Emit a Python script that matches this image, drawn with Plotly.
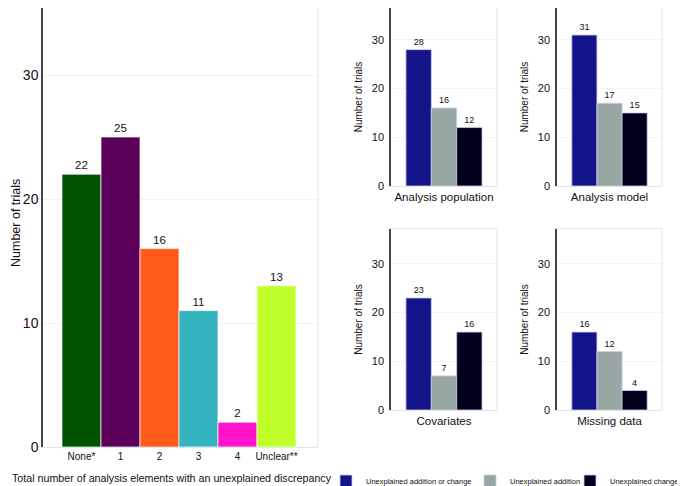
import plotly.graph_objects as go

# main panel: total number of analysis elements with an unexplained discrepancy
main_labels = ["None*", "1", "2", "3", "4", "Unclear**"]
main_counts = [22, 25, 16, 11, 2, 13]
main_colors = ["#005200", "#5a0058", "#ff5a1a", "#35b4c0", "#ff14cc", "#c0ff2a"]

# small panels
panel_titles = ["Analysis population", "Analysis model", "Covariates", "Missing data"]
series_names = ["Unexplained addition or change", "Unexplained addition", "Unexplained change"]
series_colors = ["#14148a", "#98a6a4", "#00001e"]
addition_or_change = [28, 31, 23, 16]
addition = [16, 17, 7, 12]
change = [12, 15, 16, 4]
series_values = [addition_or_change, addition, change]

FONT = "Liberation Sans, Arial, sans-serif"
# the page body has an 8px margin, so the figure is drawn 8px in from the corner
OFF = 8
W, H = 685 - OFF, 486 - OFF
grid_col = "#eef3f4"
frame_col = "#dde7ea"
axis_col = "#444444"


def fx(px):
    return (px - OFF) / W


def fy(py):
    return min(1.0, max(0.0, 1 - (py - OFF) / H))


fig = go.Figure()

fig.add_trace(go.Bar(
    x=list(range(len(main_labels))), y=main_counts, width=1,
    marker=dict(color=main_colors, line=dict(color="rgba(255,255,255,0.7)", width=1)),
    text=main_counts, textposition="outside", cliponaxis=False,
    textfont=dict(size=11.5, color="#111"),
    showlegend=False, xaxis="x", yaxis="y"))

# panel boxes in page pixels (left, right, top, bottom); 12.4 px per unit main, 4.87 small
boxes = [(391, 497, 5, 186), (557, 662, 5, 186), (391, 497, 229, 410), (557, 662, 229, 410)]
legend_text_x = [368, 512, 612]
main_top = OFF

layout = dict(
    width=W, height=H, margin=dict(l=0, r=0, t=0, b=0, autoexpand=False),
    plot_bgcolor="white", paper_bgcolor="white",
    barmode="overlay",
    font=dict(family=FONT, color="#111"),
    xaxis=dict(domain=[fx(43), fx(318)], range=[-0.987, 6.064],
               tickmode="array", tickvals=list(range(len(main_labels))), ticktext=main_labels,
               tickfont=dict(size=10), showgrid=False, zeroline=False,
               showline=True, linecolor=frame_col, mirror=True, ticks="", anchor="y"),
    yaxis=dict(domain=[fy(447), 1.0], range=[0, (447 - main_top) / 12.4], dtick=10,
               tickfont=dict(size=14), showgrid=True, gridcolor=grid_col, zeroline=False,
               showline=True, linecolor=axis_col, linewidth=1.5, ticks="", anchor="x"),
)

# one legend per series so the entries sit where the reference has them
for s in range(3):
    key = "legend" if s == 0 else "legend%d" % (s + 1)
    layout[key] = dict(x=fx(legend_text_x[s]) - 42 / W, xanchor="left", y=fy(481), yanchor="middle",
                       font=dict(size=7.5), itemwidth=30, bgcolor="rgba(0,0,0,0)", borderwidth=0)

shapes = [dict(type="line", xref="x domain", yref="y domain", x0=1, x1=1, y0=0, y1=1,
               line=dict(color=frame_col, width=1))]

for p, (l, r, t, b) in enumerate(boxes):
    n = p + 2
    xa, ya = "x%d" % n, "y%d" % n
    for s in range(3):
        fig.add_trace(go.Bar(
            x=[s], y=[series_values[s][p]], width=1, name=series_names[s],
            marker=dict(color=series_colors[s], line=dict(color="rgba(200,205,230,0.8)", width=1)),
            text=[series_values[s][p]], textposition="outside", cliponaxis=False,
            textfont=dict(size=9, color="#111"),
            legend="legend" if s == 0 else "legend%d" % (s + 1),
            showlegend=(p == 0), xaxis=xa, yaxis=ya))
    top = max(t, OFF)
    layout["xaxis%d" % n] = dict(
        domain=[fx(l), fx(r)], range=[-1.09, 3.09], showticklabels=False, ticks="",
        showgrid=False, zeroline=False, showline=True, linecolor=frame_col, mirror=True,
        title=dict(text=panel_titles[p], font=dict(size=11.5), standoff=6),
        anchor=ya)
    layout["yaxis%d" % n] = dict(
        domain=[fy(b), fy(top)], range=[0, (b - top) / 4.87], dtick=10,
        tickfont=dict(size=11), showgrid=True, gridcolor=grid_col, zeroline=False,
        showline=True, linecolor=axis_col, linewidth=1.5,
        ticks="outside", ticklen=3, tickcolor="rgba(0,0,0,0)",
        title=dict(text="Number of trials", font=dict(size=10), standoff=7), anchor=xa)
    shapes.append(dict(type="line", xref=xa + " domain", yref=ya + " domain", x0=1, x1=1, y0=0, y1=1,
                       line=dict(color=frame_col, width=1)))

layout["shapes"] = shapes
layout["annotations"] = [
    dict(text="Total number of analysis elements with an unexplained discrepancy",
         xref="paper", yref="paper", x=fx(172), y=fy(478), xanchor="center", yanchor="middle",
         showarrow=False, font=dict(size=10.7)),
    dict(text="Number of trials", textangle=-90, borderpad=0,
         xref="paper", yref="paper", x=0, y=fy(223), xanchor="left", yanchor="middle",
         showarrow=False, font=dict(size=12.5)),
]

fig.update_layout(**layout)
fig.write_html("out.html")
